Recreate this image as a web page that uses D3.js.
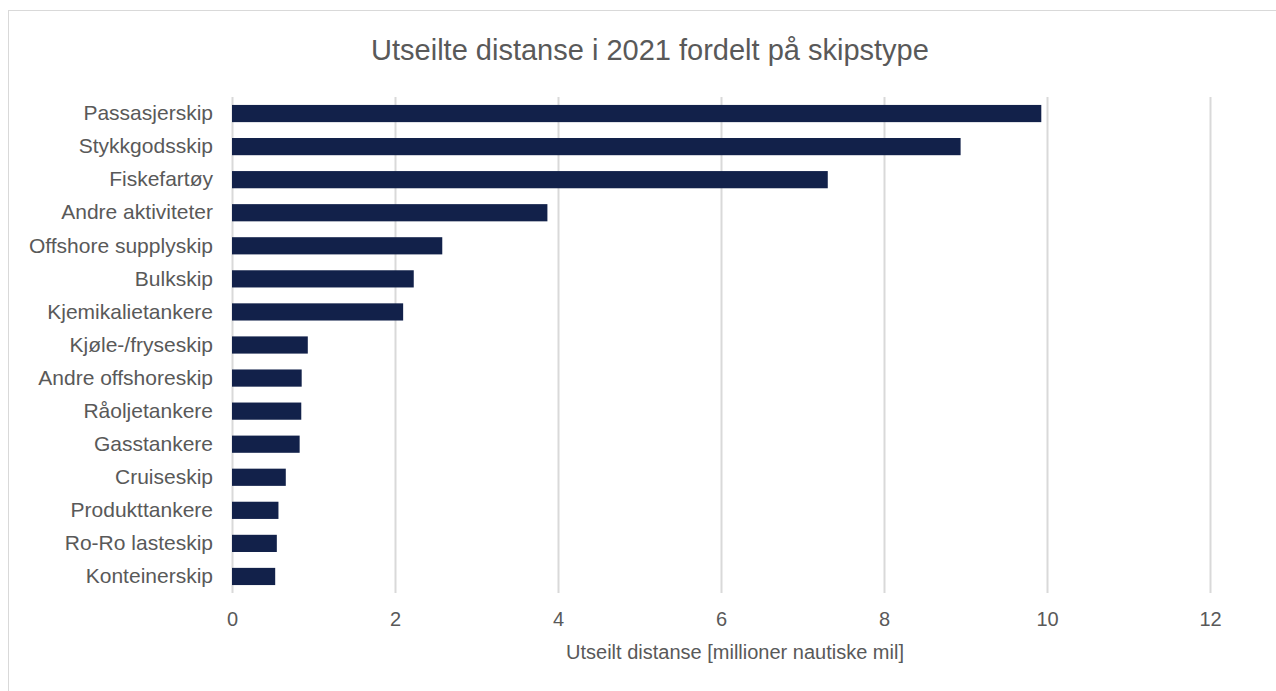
<!DOCTYPE html>
<html>
<head>
<meta charset="utf-8">
<script src="https://cdn.jsdelivr.net/npm/d3@7"></script>
<style>
  html, body { margin: 0; padding: 0; background: #fff; }
  svg { display: block; font-family: "Liberation Sans", Arial, Helvetica, sans-serif; }
</style>
</head>
<body>
<svg id="chart" width="1276" height="691"></svg>
<script>
// Distance sailed in 2021 by ship type (million nautical miles)
const categories = [
  "Passasjerskip", "Stykkgodsskip", "Fiskefartøy", "Andre aktiviteter",
  "Offshore supplyskip", "Bulkskip", "Kjemikalietankere", "Kjøle-/fryseskip",
  "Andre offshoreskip", "Råoljetankere", "Gasstankere", "Cruiseskip",
  "Produkttankere", "Ro-Ro lasteskip", "Konteinerskip"
];
const values = [9.93, 8.94, 7.31, 3.87, 2.58, 2.23, 2.10, 0.93, 0.855, 0.85, 0.83, 0.66, 0.57, 0.55, 0.53];
const xTicks = [0, 2, 4, 6, 8, 10, 12];
const titleText = "Utseilte distanse i 2021 fordelt på skipstype";
const xAxisTitle = "Utseilt distanse [millioner nautiske mil]";

const svg = d3.select("#chart");
const margin = { left: 232, right: 66, top: 97, bottom: 98 };
const W = 1276, H = 691;

// outer chart frame (extends past the right and bottom edges)
svg.append("rect")
  .attr("x", 8.5).attr("y", 10.5)
  .attr("width", 1290).attr("height", 700)
  .attr("fill", "#fff").attr("stroke", "#d9d9d9").attr("stroke-width", 1);

const x = d3.scaleLinear().domain([0, 12]).range([margin.left, W - margin.right]);
const y = d3.scaleBand().domain(categories)
  .range([margin.top, H - margin.bottom]).paddingInner(0.48).paddingOuter(0.24);

// vertical gridlines
const grid = svg.append("g")
  .attr("transform", `translate(0,${H - margin.bottom})`)
  .call(d3.axisBottom(x).tickValues(xTicks).tickSize(-(H - margin.bottom - margin.top)).tickFormat(""));
grid.select(".domain").remove();
grid.selectAll(".tick line").attr("stroke", "#d9d9d9").attr("stroke-width", 2);

// bars
svg.append("g").selectAll("rect")
  .data(categories)
  .join("rect")
  .attr("x", x(0))
  .attr("y", d => y(d))
  .attr("width", (d, i) => x(values[i]) - x(0))
  .attr("height", y.bandwidth())
  .attr("fill", "#12214a");

// x tick labels
const xAxis = svg.append("g")
  .attr("transform", `translate(0,${H - margin.bottom})`)
  .call(d3.axisBottom(x).tickValues(xTicks).tickSize(0).tickPadding(19));
xAxis.select(".domain").remove();
xAxis.selectAll("text").attr("font-size", 20).attr("fill", "#595959").attr("font-family", null);

// category labels
const yAxis = svg.append("g")
  .attr("transform", `translate(${margin.left},0)`)
  .call(d3.axisLeft(y).tickSize(0).tickPadding(19));
yAxis.select(".domain").remove();
yAxis.selectAll("text").attr("font-size", 21).attr("fill", "#595959").attr("font-family", null);

// title
svg.append("text")
  .attr("x", 650).attr("y", 60)
  .attr("text-anchor", "middle")
  .attr("font-size", 29).attr("fill", "#595959")
  .text(titleText);

// x-axis title
svg.append("text")
  .attr("x", 735).attr("y", 659)
  .attr("text-anchor", "middle")
  .attr("font-size", 20).attr("fill", "#595959")
  .text(xAxisTitle);
</script>
</body>
</html>
